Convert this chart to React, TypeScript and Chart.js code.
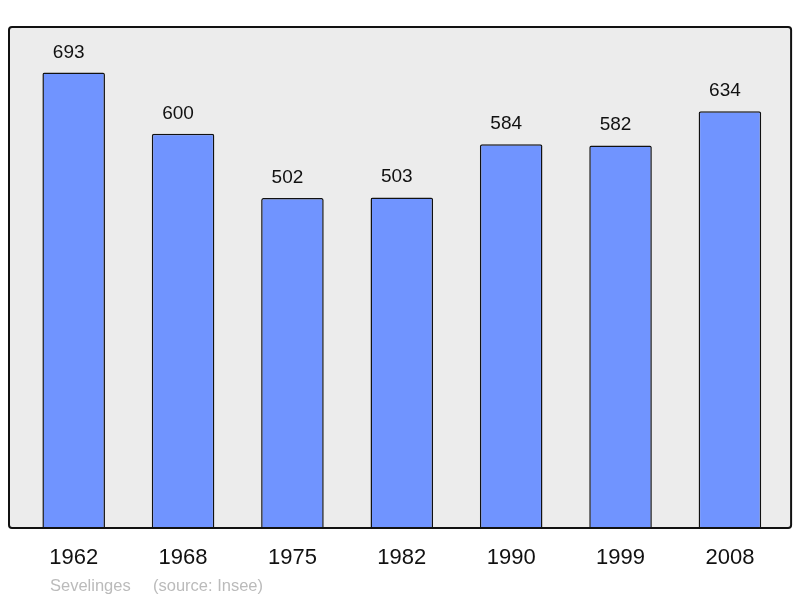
import React, { useEffect, useRef } from "react";
import { Chart, registerables } from "chart.js";

Chart.register(...registerables);

const years = ["1962", "1968", "1975", "1982", "1990", "1999", "2008"];
const population = [693, 600, 502, 503, 584, 582, 634];
const footerName = "Sevelinges";
const footerSource = "(source: Insee)";

const FONT = '"Liberation Sans", Arial, sans-serif';
const Y_MAX = Math.max(...population) * 1.1;

const panelPlugin = {
  id: "panel",
  beforeDatasetsDraw(chart: any) {
    const { ctx, chartArea } = chart;
    const l = chartArea.left - 10;
    const r = chartArea.right + 6.5;
    ctx.save();
    ctx.beginPath();
    ctx.roundRect(l, chartArea.top, r - l, chartArea.bottom - chartArea.top, 3);
    ctx.fillStyle = "#ececec";
    ctx.fill();
    ctx.restore();
  },
  afterDatasetsDraw(chart: any) {
    const { ctx, chartArea } = chart;
    const l = chartArea.left - 10;
    const r = chartArea.right + 6.5;
    ctx.save();
    // value labels
    const meta = chart.getDatasetMeta(0);
    ctx.fillStyle = "#111";
    ctx.font = `19px ${FONT}`;
    ctx.textAlign = "center";
    ctx.textBaseline = "alphabetic";
    meta.data.forEach((bar: any, i: number) => {
      ctx.fillText(String(population[i]), bar.x - 5, bar.y - 15);
    });
    // panel border
    ctx.beginPath();
    ctx.roundRect(l, chartArea.top, r - l, chartArea.bottom - chartArea.top, 3);
    ctx.lineWidth = 2;
    ctx.strokeStyle = "#111";
    ctx.stroke();
    // footer
    ctx.fillStyle = "#bbbbbb";
    ctx.font = `16.5px ${FONT}`;
    ctx.textAlign = "left";
    ctx.fillText(footerName, chartArea.left + 31, chart.height - 7);
    ctx.fillText(footerSource, chartArea.left + 134, chart.height - 7);
    ctx.restore();
  },
};

export default function App() {
  const ref = useRef<HTMLCanvasElement>(null);
  useEffect(() => {
    document.body.style.margin = "0";
    const chart = new Chart(ref.current!, {
      type: "bar",
      data: {
        labels: years,
        datasets: [
          {
            data: population,
            backgroundColor: "#7094ff",
            borderColor: "#111",
            borderWidth: 1.5,
            borderRadius: 2,
            borderSkipped: "bottom",
            categoryPercentage: 1,
            barPercentage: 0.572,
          },
        ],
      },
      options: {
        responsive: false,
        animation: false,
        layout: { padding: { left: 19, right: 15.4, top: 27, bottom: 9.6 } },
        plugins: { legend: { display: false }, tooltip: { enabled: false } },
        scales: {
          y: { display: false, min: 0, max: Y_MAX },
          x: {
            grid: { display: false, drawTicks: false },
            border: { display: false },
            ticks: { color: "#111", font: { family: FONT, size: 22 }, padding: 17 },
          },
        },
      },
      plugins: [panelPlugin],
    });
    return () => chart.destroy();
  }, []);
  return (
    <div style={{ position: "fixed", left: 0, top: 0, width: 800, height: 598, background: "#fff" }}>
      <canvas ref={ref} width={800} height={598} />
    </div>
  );
}
